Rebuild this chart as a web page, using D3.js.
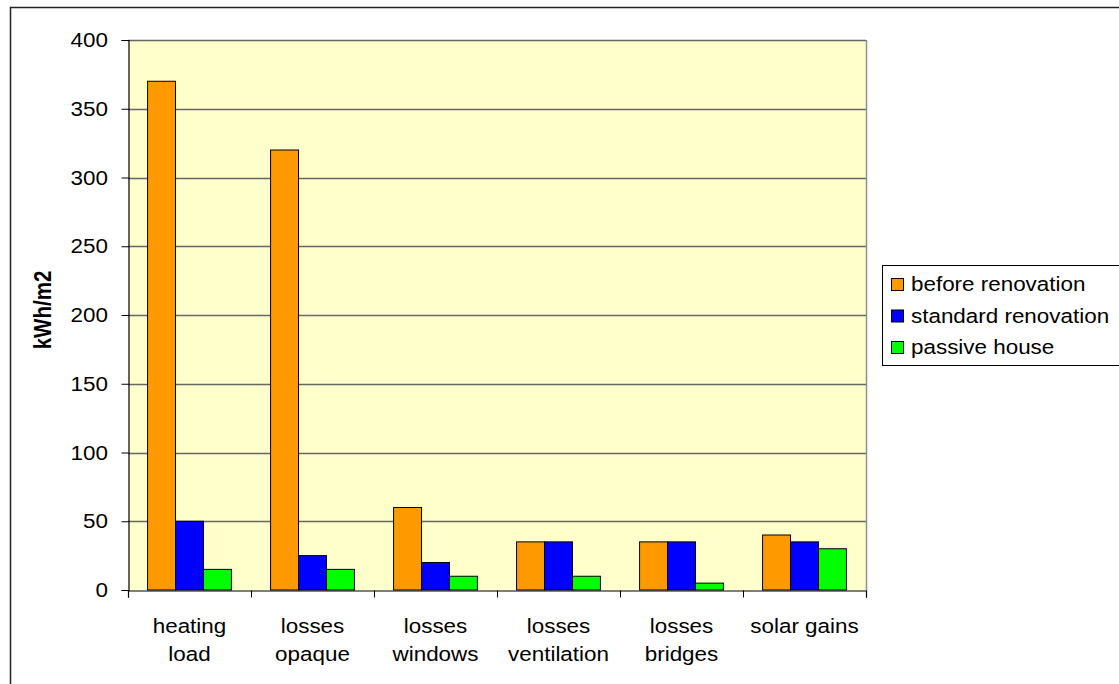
<!DOCTYPE html>
<html>
<head>
<meta charset="utf-8">
<script src="https://cdn.jsdelivr.net/npm/d3@7"></script>
<style>
  html, body { margin: 0; padding: 0; background: #fff; }
  svg { display: block; }
  text { font-family: "Liberation Sans", Arial, sans-serif; fill: #000; }
</style>
</head>
<body>
<svg id="chart" width="1119" height="684"></svg>
<script>
// Heating energy balance per m2 for three building standards
const categories = [
  ["heating", "load"],
  ["losses", "opaque"],
  ["losses", "windows"],
  ["losses", "ventilation"],
  ["losses", "bridges"],
  ["solar gains"]
];
const seriesNames = ["before renovation", "standard renovation", "passive house"];
const beforeRenovation   = [370, 320, 60, 35, 35, 40];
const standardRenovation = [50, 25, 20, 35, 35, 35];
const passiveHouse       = [15, 15, 10, 10, 5, 30];
const seriesColors = ["#FF9900", "#0000FF", "#00FF00"];
const yTicks = [0, 50, 100, 150, 200, 250, 300, 350, 400];
const yTitle = "kWh/m2";

const seriesValues = [beforeRenovation, standardRenovation, passiveHouse];
const catKeys = categories.map(c => c.join(" "));

const svg = d3.select("#chart");
const plot = { left: 128, right: 866, top: 40, bottom: 590 };
const FS = 19.5;     // font size
const SX = 1.15;     // horizontal glyph stretch

// outer chart frame
svg.append("rect")
  .attr("x", 10.5).attr("y", 7.5)
  .attr("width", 1200).attr("height", 800)
  .attr("fill", "none").attr("stroke", "#222").attr("stroke-width", 1.5);

const y = d3.scaleLinear().domain([0, 400]).range([plot.bottom, plot.top]);
const x0 = d3.scaleBand().domain(catKeys).range([plot.left, plot.right]).padding(0);
const x1 = d3.scaleBand().domain(seriesNames).range([0, x0.bandwidth()])
  .paddingInner(0).paddingOuter(0.7);

// plot background
svg.append("rect")
  .attr("x", plot.left).attr("y", plot.top)
  .attr("width", plot.right - plot.left).attr("height", plot.bottom - plot.top)
  .attr("fill", "#FFFFCC");

// horizontal gridlines
svg.append("g")
  .selectAll("line")
  .data(yTicks.filter(t => t > 0))
  .join("line")
  .attr("x1", plot.left).attr("x2", plot.right)
  .attr("y1", d => Math.round(y(d)) + 0.5).attr("y2", d => Math.round(y(d)) + 0.5)
  .attr("stroke", "#666").attr("stroke-width", 1.4);

// plot border (right side)
svg.append("line")
  .attr("x1", plot.right + 0.5).attr("x2", plot.right + 0.5)
  .attr("y1", plot.top).attr("y2", plot.bottom)
  .attr("stroke", "#909090").attr("stroke-width", 1.5);

// bars
const groups = svg.append("g")
  .selectAll("g")
  .data(catKeys)
  .join("g")
  .attr("transform", d => `translate(${x0(d)},0)`);

groups.selectAll("rect")
  .data((d, i) => seriesNames.map((s, j) => ({ s, j, v: seriesValues[j][i] })))
  .join("rect")
  .attr("x", d => x1(d.s))
  .attr("width", x1.bandwidth())
  .attr("y", d => y(d.v))
  .attr("height", d => y(0) - y(d.v))
  .attr("fill", d => seriesColors[d.j])
  .attr("stroke", "#000").attr("stroke-width", 1);

// y axis
const yAxis = d3.axisLeft(y).tickValues(yTicks).tickSize(7).tickFormat("");
const gy = svg.append("g").attr("transform", `translate(${plot.left + 0.5},0)`).call(yAxis);
gy.select(".domain").attr("stroke", "#000").attr("stroke-width", 1.2);
gy.selectAll(".tick line").attr("stroke", "#000");

svg.append("g").selectAll("text")
  .data(yTicks)
  .join("text")
  .attr("transform", d => `translate(108,${y(d)}) scale(${SX},1)`)
  .attr("text-anchor", "end")
  .attr("dy", "0.36em")
  .style("font-size", FS + "px")
  .text(d => d);

// x axis
const xAxis = d3.axisBottom(d3.scaleLinear().domain([0, 6]).range([plot.left, plot.right]))
  .tickValues(d3.range(0, 7)).tickSize(7).tickFormat("");
const gx = svg.append("g").attr("transform", `translate(0,${plot.bottom + 0.5})`).call(xAxis);
gx.select(".domain").attr("stroke", "#000").attr("stroke-width", 1.2);
gx.selectAll(".tick line").attr("stroke", "#000");

// category labels
const catLabels = svg.append("g").selectAll("g")
  .data(categories)
  .join("g")
  .attr("transform", (d, i) => `translate(${x0(catKeys[i]) + x0.bandwidth() / 2},633) scale(${SX},1)`);
catLabels.selectAll("text")
  .data(d => d)
  .join("text")
  .attr("text-anchor", "middle")
  .attr("y", (d, i) => i * 28.5)
  .style("font-size", FS + "px")
  .text(d => d);

// y axis title
svg.append("text")
  .attr("transform", `translate(43,310) scale(${SX},1) rotate(-90)`)
  .attr("text-anchor", "middle")
  .attr("dy", "0.36em")
  .style("font-size", "20.5px")
  .style("font-weight", "bold")
  .text(yTitle);

// legend
const legend = svg.append("g");
legend.append("rect")
  .attr("x", 882.5).attr("y", 265.5)
  .attr("width", 300).attr("height", 100)
  .attr("fill", "#fff").attr("stroke", "#000").attr("stroke-width", 1);
const items = legend.selectAll("g.item")
  .data(seriesNames)
  .join("g")
  .attr("class", "item")
  .attr("transform", (d, i) => `translate(0,${284 + i * 31.5})`);
items.append("rect")
  .attr("x", 891.5).attr("y", -5.5)
  .attr("width", 12).attr("height", 12)
  .attr("fill", (d, i) => seriesColors[i])
  .attr("stroke", "#000").attr("stroke-width", 1);
items.append("text")
  .attr("transform", `translate(911,0) scale(${SX},1)`)
  .attr("dy", "0.36em")
  .style("font-size", FS + "px")
  .text(d => d);
</script>
</body>
</html>
